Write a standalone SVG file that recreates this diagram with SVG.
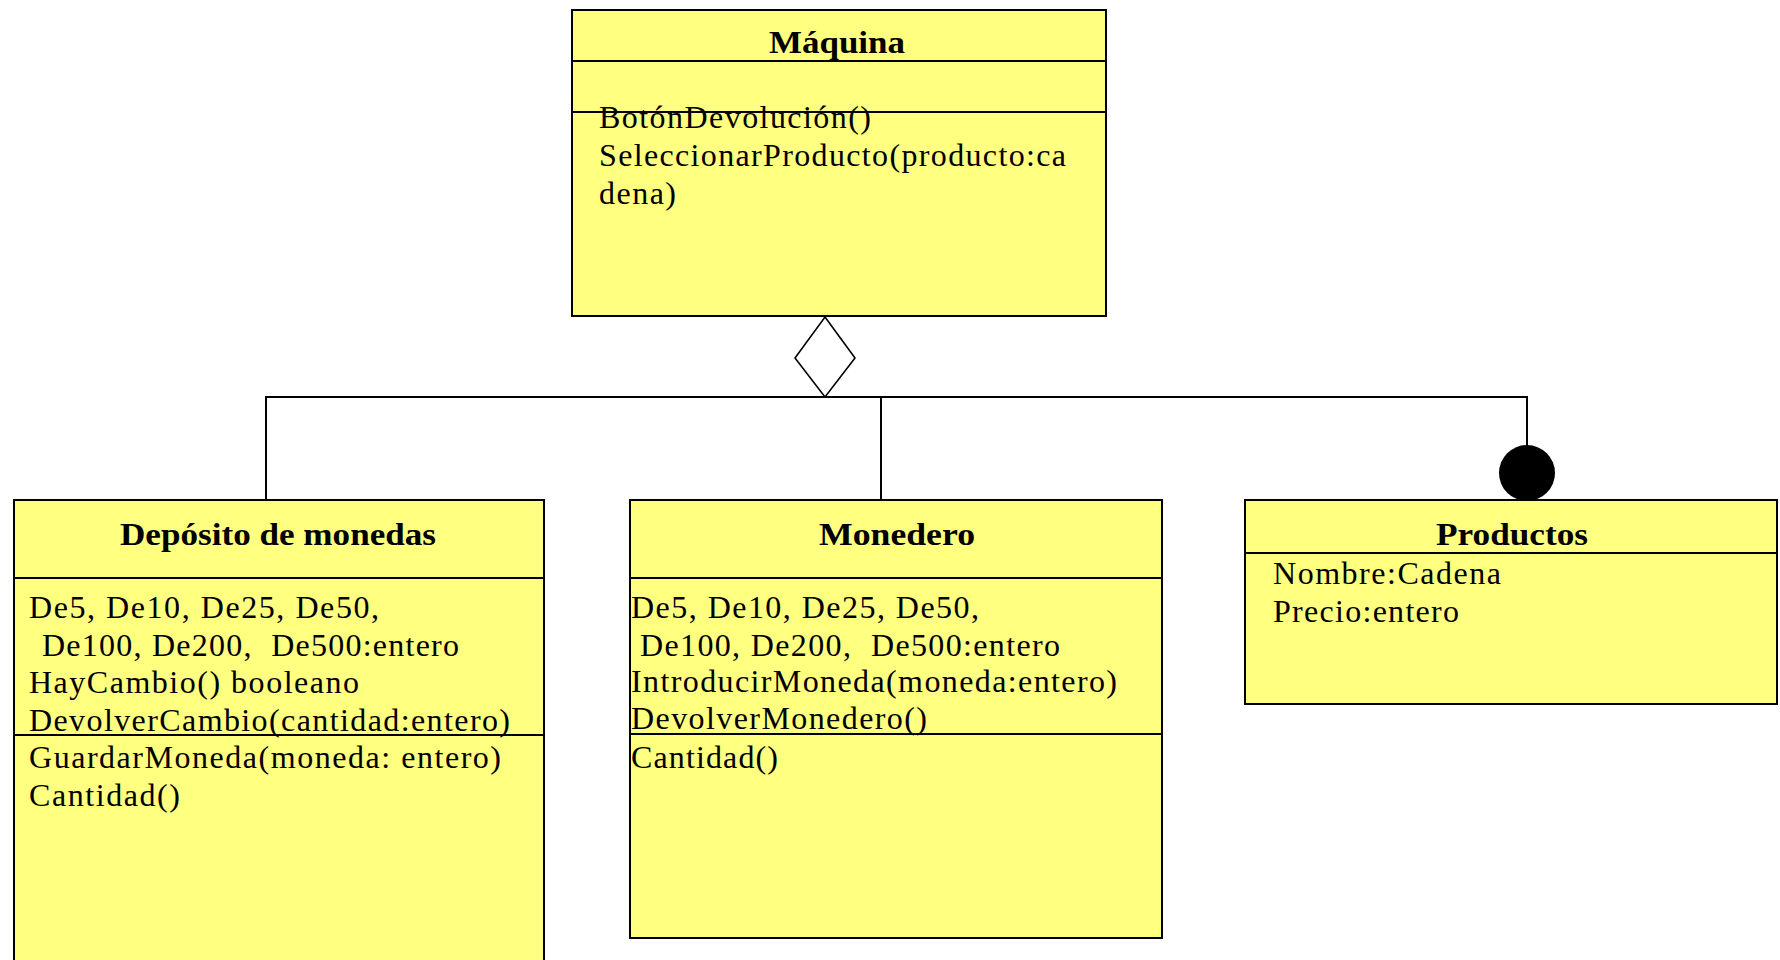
<svg xmlns="http://www.w3.org/2000/svg" width="1780" height="960" viewBox="0 0 1780 960">
<style>
.box{fill:#ffff80;stroke:#000;stroke-width:2}
.div{stroke:#000;stroke-width:2;fill:none}
.t{font-family:"Liberation Serif","Times New Roman",serif;font-size:32px;fill:#000}
.pre{white-space:pre}
.h{font-family:"Liberation Serif","Times New Roman",serif;font-size:32px;font-weight:bold;fill:#000}
.ln{stroke:#000;stroke-width:2;fill:none}
</style>
<rect width="1780" height="960" fill="#fff"/>
<g id="connectors">
<polyline class="ln" points="266,499 266,397 1527,397 1527,446"/>
<line class="ln" x1="881" y1="397" x2="881" y2="499"/>
<polygon points="825,317 855,358 825,397 795,358" fill="#fff" stroke="#000" stroke-width="1.6"/>
<circle cx="1527" cy="473" r="28" fill="#000"/>
</g>
<g id="maquina">
<rect class="box" x="572" y="10" width="534" height="306"/>
<line class="div" x1="572" y1="61" x2="1106" y2="61"/>
<line class="div" x1="572" y1="112" x2="1106" y2="112"/>
<text class="h" x="769" y="53" textLength="136" lengthAdjust="spacingAndGlyphs">Máquina</text>
<text class="t" x="599" y="128" textLength="272" lengthAdjust="spacing">BotónDevolución()</text>
<text class="t" x="599" y="166" textLength="467" lengthAdjust="spacing">SeleccionarProducto(producto:ca</text>
<text class="t" x="599" y="204" textLength="77" lengthAdjust="spacing">dena)</text>
</g>
<g id="deposito">
<rect class="box" x="14" y="500" width="530" height="470"/>
<line class="div" x1="14" y1="578" x2="544" y2="578"/>
<line class="div" x1="14" y1="735" x2="544" y2="735"/>
<text class="h" x="120" y="545" textLength="316" lengthAdjust="spacingAndGlyphs">Depósito de monedas</text>
<text class="t" x="29" y="618" textLength="350" lengthAdjust="spacing">De5, De10, De25, De50,</text>
<text class="t pre" x="42" y="656" textLength="417" lengthAdjust="spacing" xml:space="preserve">De100, De200,  De500:entero</text>
<text class="t" x="29" y="693" textLength="330" lengthAdjust="spacing">HayCambio() booleano</text>
<text class="t" x="29" y="731" textLength="481" lengthAdjust="spacing">DevolverCambio(cantidad:entero)</text>
<text class="t" x="29" y="768" textLength="472" lengthAdjust="spacing">GuardarMoneda(moneda: entero)</text>
<text class="t" x="29" y="806" textLength="151" lengthAdjust="spacing">Cantidad()</text>
</g>
<g id="monedero">
<rect class="box" x="630" y="500" width="532" height="438"/>
<line class="div" x1="630" y1="578" x2="1162" y2="578"/>
<line class="div" x1="630" y1="734" x2="1162" y2="734"/>
<text class="h" x="819" y="545" textLength="156" lengthAdjust="spacingAndGlyphs">Monedero</text>
<text class="t" x="631" y="618" textLength="348" lengthAdjust="spacing">De5, De10, De25, De50,</text>
<text class="t pre" x="640" y="656" textLength="420" lengthAdjust="spacing" xml:space="preserve">De100, De200,  De500:entero</text>
<text class="t" x="631" y="692" textLength="486" lengthAdjust="spacing">IntroducirMoneda(moneda:entero)</text>
<text class="t" x="631" y="729" textLength="296" lengthAdjust="spacing">DevolverMonedero()</text>
<text class="t" x="631" y="768" textLength="147" lengthAdjust="spacing">Cantidad()</text>
</g>
<g id="productos">
<rect class="box" x="1245" y="500" width="532" height="204"/>
<line class="div" x1="1245" y1="553" x2="1777" y2="553"/>
<text class="h" x="1436" y="545" textLength="152" lengthAdjust="spacingAndGlyphs">Productos</text>
<text class="t" x="1273" y="584" textLength="228" lengthAdjust="spacing">Nombre:Cadena</text>
<text class="t" x="1273" y="622" textLength="186" lengthAdjust="spacing">Precio:entero</text>
</g>
</svg>
